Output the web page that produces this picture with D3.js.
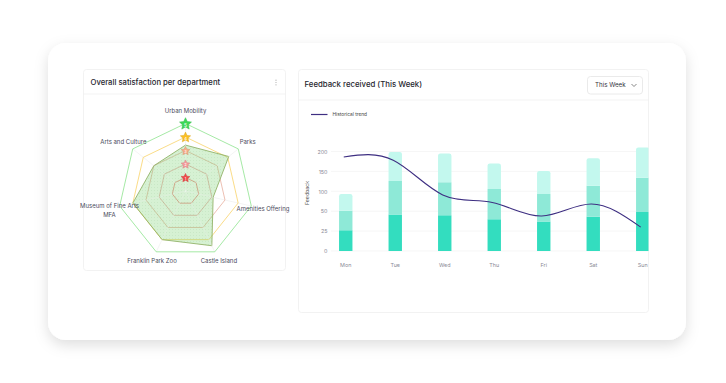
<!DOCTYPE html>
<html>
<head>
<meta charset="utf-8">
<script src="https://cdn.jsdelivr.net/npm/d3@7"></script>
<style>
  html, body { margin: 0; padding: 0; background: #ffffff; }
  svg { display: block; font-family: Inter, "Noto Sans", sans-serif; }
</style>
</head>
<body>
<svg id="chart" width="726" height="383"></svg>
<script>
// ---------- DATA ----------
const departments = ["Urban Mobility", "Parks", "Amenities Offering", "Castle Island", "Franklin Park Zoo", "Museum of Fine Arts MFA", "Arts and Culture"];
const satisfaction = [3.4, 4.1, 2.1, 4.5, 4.0, 4.0, 3.0];
const levels = [1, 2, 3, 4, 5];

const days = ["Mon", "Tue", "Wed", "Thu", "Fri", "Sat", "Sun"];
const feedbackLow = [26, 46, 45, 40, 37, 43, 49];
const feedbackMid = [25, 80, 78, 66, 56, 71, 85];
const feedbackHigh = [42, 73, 72, 64, 58, 69, 76];
const historicalTrend = [186, 178, 91, 72, 44, 68, 30];
const yTicks = [0, 25, 50, 100, 150, 200];

// ---------- STYLES ----------
const levelColors = ["#f07a7a", "#eba3a3", "#e9b0a0", "#f9d36a", "#8ee38e"];
const starColors = ["#f04848", "#f59a9a", "#f6ab86", "#fbbf24", "#3ed858"];
const barColors = ["#33ddbf", "#8ee9d7", "#c3f8ee"];

const svg = d3.select("#chart");
const defs = svg.append("defs");

const shadow = defs.append("filter").attr("id", "shadow")
  .attr("x", "-10%").attr("y", "-10%").attr("width", "120%").attr("height", "130%");
shadow.append("feDropShadow").attr("dx", 0).attr("dy", 5).attr("stdDeviation", 7)
  .attr("flood-color", "#000").attr("flood-opacity", 0.13);

const dots = defs.append("pattern").attr("id", "dots").attr("patternUnits", "userSpaceOnUse")
  .attr("width", 3).attr("height", 3);
dots.append("circle").attr("cx", 1.5).attr("cy", 1.5).attr("r", 0.35).attr("fill", "rgba(70,150,70,0.35)");

// card
svg.append("rect").attr("x", 48).attr("y", 43).attr("width", 638).attr("height", 297)
  .attr("rx", 18).attr("fill", "#fff").attr("filter", "url(#shadow)");

// panels
function panel(x, y, w, h, headerH) {
  svg.append("rect").attr("x", x).attr("y", y).attr("width", w).attr("height", h)
    .attr("rx", 3).attr("fill", "#fff").attr("stroke", "#efefef").attr("stroke-width", 0.8);
  svg.append("line").attr("x1", x).attr("x2", x + w).attr("y1", y + headerH).attr("y2", y + headerH)
    .attr("stroke", "#f0f0f0").attr("stroke-width", 0.8);
}
panel(83.5, 69.5, 202, 201, 24.5);
panel(298.5, 69.5, 350, 243, 30.5);

// ---------- LEFT: RADAR ----------
svg.append("text").attr("x", 90.5).attr("y", 83).attr("dominant-baseline", "middle")
  .attr("font-size", 7.7).attr("font-weight", 500).attr("fill", "#26262e")
  .text("Overall satisfaction per department");
[-2.3, 0, 2.3].forEach(d => svg.append("circle").attr("cx", 276).attr("cy", 82.5 + d).attr("r", 0.6).attr("fill", "#aaa"));

const cx = 185.5, cy = 191;
const r = d3.scaleLinear().domain([0, 5]).range([0, 67.5]);
const n = departments.length;
const angle = i => -Math.PI / 2 + i * 2 * Math.PI / n;
const pt = (i, v) => [cx + r(v) * Math.cos(angle(i)), cy + r(v) * Math.sin(angle(i))];
const radar = svg.append("g");

// spokes
departments.forEach((d, i) => {
  const [x2, y2] = pt(i, 5);
  radar.append("line").attr("x1", cx).attr("y1", cy).attr("x2", x2).attr("y2", y2)
    .attr("stroke", "#ececec").attr("stroke-width", 0.6);
});

// level rings
levels.forEach((lv, k) => {
  radar.append("polygon")
    .attr("points", departments.map((d, i) => pt(i, lv).join(",")).join(" "))
    .attr("fill", "none").attr("stroke", levelColors[k]).attr("stroke-width", 0.8);
});

// data polygon
const polyPts = satisfaction.map((v, i) => pt(i, v).join(",")).join(" ");
radar.append("polygon").attr("points", polyPts)
  .attr("fill", "rgba(130,212,120,0.33)").attr("stroke", "none");
radar.append("polygon").attr("points", polyPts)
  .attr("fill", "url(#dots)").attr("stroke", "#93b36a").attr("stroke-width", 0.9);

// white spokes over the fill
departments.forEach((d, i) => {
  const [x2, y2] = pt(i, satisfaction[i]);
  radar.append("line").attr("x1", cx).attr("y1", cy).attr("x2", x2).attr("y2", y2)
    .attr("stroke", "rgba(255,255,255,0.55)").attr("stroke-width", 0.6);
});

// stars on top axis
function starPath(R, rr) {
  const p = [];
  for (let j = 0; j < 10; j++) {
    const a = -Math.PI / 2 + j * Math.PI / 5;
    const rad = j % 2 === 0 ? R : rr;
    p.push([rad * Math.cos(a), rad * Math.sin(a)]);
  }
  return "M" + p.map(q => q.join(",")).join("L") + "Z";
}
levels.forEach((lv, k) => {
  const [sx, sy] = pt(0, lv);
  const R = lv === 5 ? 6.3 : (lv === 4 ? 5.4 : 4.6);
  const g = radar.append("g").attr("transform", `translate(${sx},${sy + 0.5})`);
  g.append("path").attr("d", starPath(R, R * 0.48)).attr("fill", starColors[k])
    .attr("stroke", d3.color(starColors[k]).darker(0.4)).attr("stroke-width", 0.5)
    .attr("stroke-linejoin", "round");
  g.append("text").attr("text-anchor", "middle").attr("dominant-baseline", "central")
    .attr("y", 0.6).attr("font-size", R * 0.75).attr("font-weight", 700)
    .attr("fill", "rgba(255,255,255,0.85)").text(lv);
});

// axis labels
departments.forEach((d, i) => {
  const lr = i === 0 ? 80 : (i === 3 || i === 4 ? 77 : 79.5);
  const x = cx + lr * Math.cos(angle(i)), y = cy + lr * Math.sin(angle(i));
  const t = radar.append("text").attr("text-anchor", "middle")
    .attr("font-size", 6).attr("fill", "#4b4b5c");
  const words = d.split(" ");
  const lines = [];
  let cur = "";
  words.forEach(w => {
    const test = cur ? cur + " " + w : w;
    if (test.length > 19 && cur) { lines.push(cur); cur = w; } else cur = test;
  });
  lines.push(cur);
  const lh = 9.5;
  lines.forEach((ln, j) => {
    t.append("tspan").attr("x", x + (lines.length > 1 ? 1.5 : 0)).attr("y", y + 2.2 + (j - (lines.length - 1) / 2) * lh + (lines.length > 1 ? 1.5 : 0)).text(ln);
  });
});

// ---------- RIGHT: FEEDBACK ----------
svg.append("text").attr("x", 304.5).attr("y", 85).attr("dominant-baseline", "middle")
  .attr("font-size", 7.8).attr("font-weight", 500).attr("fill", "#26262e")
  .text("Feedback received (This Week)");

svg.append("rect").attr("x", 587.5).attr("y", 76.5).attr("width", 55).attr("height", 17.5)
  .attr("rx", 3).attr("fill", "#fff").attr("stroke", "#e4e4e4").attr("stroke-width", 0.8);
svg.append("text").attr("x", 595).attr("y", 85.5).attr("dominant-baseline", "middle")
  .attr("font-size", 6.2).attr("fill", "#33333d").text("This Week");
svg.append("path").attr("d", "M631.5,84 L634,86.5 L636.5,84").attr("fill", "none")
  .attr("stroke", "#555").attr("stroke-width", 0.7);

// legend
svg.append("line").attr("x1", 311).attr("x2", 327.5).attr("y1", 114.5).attr("y2", 114.5)
  .attr("stroke", "#3e2f82").attr("stroke-width", 1.2);
svg.append("text").attr("x", 332.5).attr("y", 115).attr("dominant-baseline", "middle")
  .attr("font-size", 4.8).attr("fill", "#444").text("Historical trend");

// scales
const y = d3.scaleLinear().domain(yTicks).range(yTicks.map((t, i) => 251 - i * 19.9));
const x = d3.scaleBand().domain(days).range([321, 667.5]).padding(0);
const barW = 13.4;

// gridlines and y tick labels
const yAxis = d3.axisLeft(y).tickValues(yTicks).tickSize(0).tickPadding(0);
const yg = svg.append("g").attr("transform", "translate(327.5,0)").call(yAxis);
yg.select(".domain").remove();
yg.selectAll("text").attr("font-size", 5.4).attr("fill", "#8a8a96").attr("font-family", "Inter, sans-serif");
svg.append("g").selectAll("line").data(yTicks).join("line")
  .attr("x1", 331).attr("x2", 648).attr("y1", d => y(d)).attr("y2", d => y(d))
  .attr("stroke", "#f2f2f2").attr("stroke-width", 0.7);

svg.append("text").attr("transform", "translate(307.5,193) rotate(-90)")
  .attr("text-anchor", "middle").attr("dominant-baseline", "middle")
  .attr("font-size", 5.2).attr("fill", "#555").text("Feedback");

// clip
defs.append("clipPath").attr("id", "plotclip").append("rect")
  .attr("x", 330).attr("y", 100).attr("width", 318.5).attr("height", 180);

const plot = svg.append("g").attr("clip-path", "url(#plotclip)");

// stacked bars
const stackData = days.map((d, i) => ({ day: d, low: feedbackLow[i], mid: feedbackMid[i], high: feedbackHigh[i] }));
const series = d3.stack().keys(["low", "mid", "high"])(stackData);

function roundTop(x0, y0, w, h, rad) {
  rad = Math.min(rad, h / 2);
  return `M${x0},${y0 + h} L${x0},${y0 + rad} Q${x0},${y0} ${x0 + rad},${y0} L${x0 + w - rad},${y0} Q${x0 + w},${y0} ${x0 + w},${y0 + rad} L${x0 + w},${y0 + h} Z`;
}

series.forEach((s, k) => {
  plot.append("g").selectAll("path").data(s).join("path")
    .attr("d", d => {
      const x0 = x(d.data.day) + (x.bandwidth() - barW) / 2;
      const top = y(d[1]), bot = y(d[0]);
      return k === 2 ? roundTop(x0, top, barW, bot - top, 2.2) : `M${x0},${bot}V${top}H${x0 + barW}V${bot}Z`;
    })
    .attr("fill", barColors[k]);
});

// trend line
const line = d3.line()
  .x((d, i) => x(days[i]) + x.bandwidth() / 2 - 2)
  .y(d => y(d))
  .curve(d3.curveNatural);
plot.append("path").datum(historicalTrend).attr("d", line)
  .attr("fill", "none").attr("stroke", "#3e2f82").attr("stroke-width", 1.1);

// x labels (clipped at the panel edge like the reference)
defs.append("clipPath").attr("id", "xclip").append("rect")
  .attr("x", 300).attr("y", -6).attr("width", 349).attr("height", 16);
const xAxis = d3.axisBottom(x).tickSize(0).tickPadding(0);
const xg = svg.append("g").attr("transform", "translate(0,263.5)").call(xAxis);
xg.select(".domain").remove();
xg.selectAll("text").attr("font-size", 5.4).attr("fill", "#8a8a96").attr("font-family", "Inter, sans-serif");
xg.attr("clip-path", "url(#xclip)");
</script>
</body>
</html>
